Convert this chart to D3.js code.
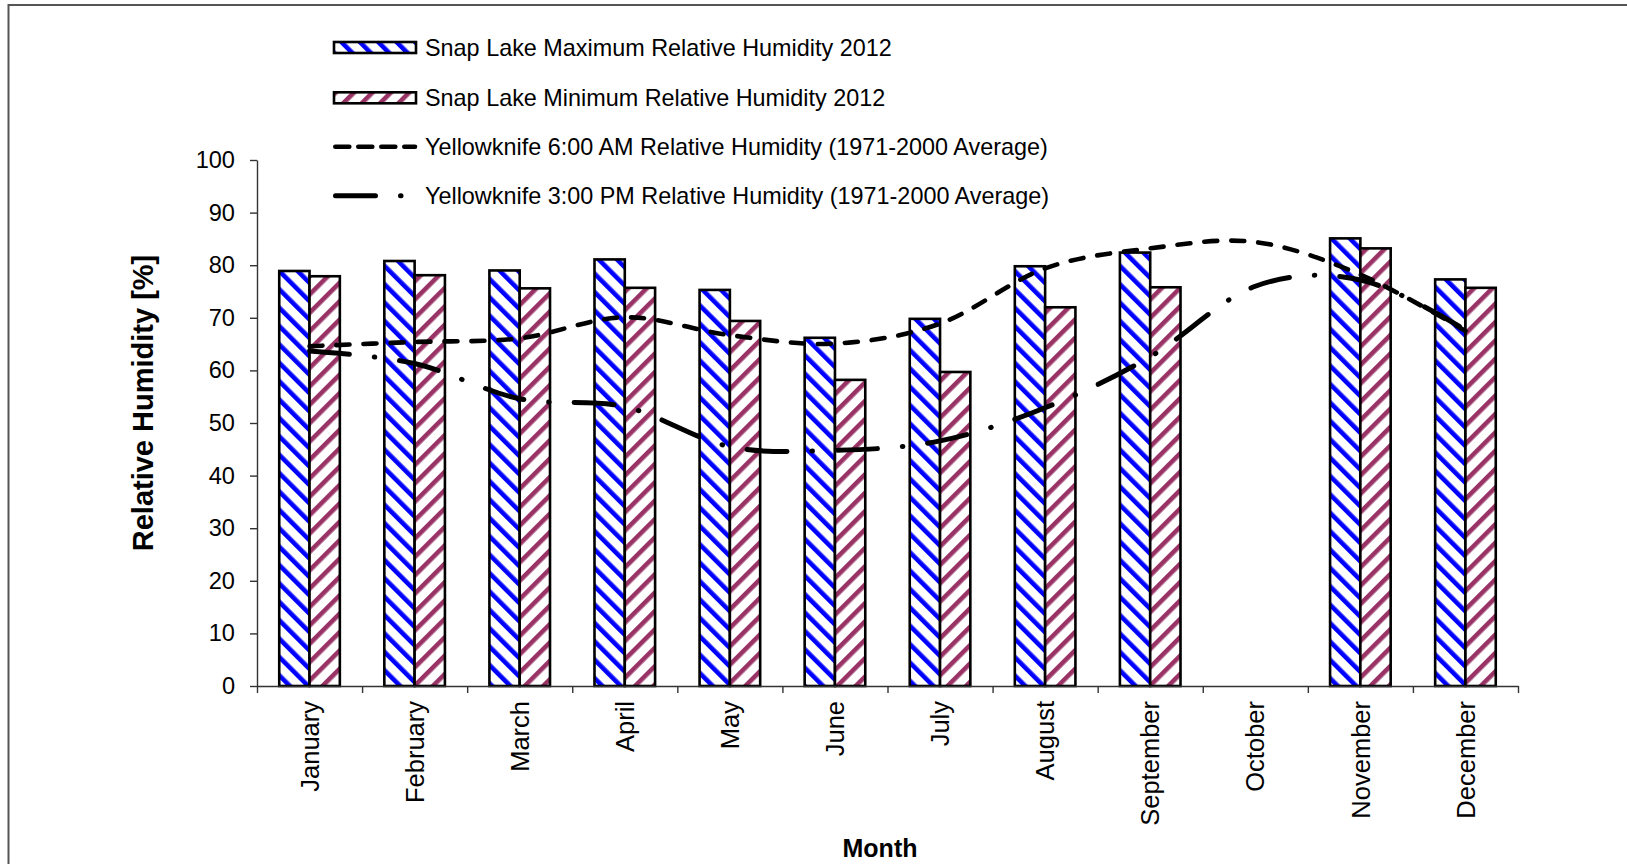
<!DOCTYPE html>
<html>
<head>
<meta charset="utf-8">
<script src="https://cdn.jsdelivr.net/npm/d3@7"></script>
<style>
body { margin: 0; background: #fff; }
text { font-family: "Liberation Sans", Arial, sans-serif; }
</style>
</head>
<body>
<div id="chart"></div>
<script>
var months = ["January", "February", "March", "April", "May", "June", "July",
  "August", "September", "October", "November", "December"];
var maxRH = [78.9, 80.8, 79.0, 81.1, 75.3, 66.2, 69.8, 79.8, 82.4, null, 85.1, 77.3];
var minRH = [77.9, 78.1, 75.6, 75.7, 69.4, 58.2, 59.7, 72.0, 75.8, null, 83.2, 75.7];
var am6 = [64.6, 65.4, 66.1, 70.1, 66.7, 65.1, 68.9, 79.4, 83.2, 84.4, 78.2, 67.5];
var pm3 = [63.7, 61.3, 54.6, 53.1, 45.5, 44.8, 46.6, 52.9, 62.6, 76.0, 77.2, 67.7];
var yTicks = [0, 10, 20, 30, 40, 50, 60, 70, 80, 90, 100];
var seriesNames = [
  "Snap Lake Maximum Relative Humidity 2012",
  "Snap Lake Minimum Relative Humidity 2012",
  "Yellowknife 6:00 AM Relative Humidity (1971-2000 Average)",
  "Yellowknife 3:00 PM Relative Humidity (1971-2000 Average)"
];

var W = 1627, H = 864;
var margin = {top: 160, right: 109, bottom: 178, left: 257};
var width = W - margin.left - margin.right;
var height = H - margin.top - margin.bottom;

var svg = d3.select("#chart").append("svg")
  .attr("width", W)
  .attr("height", H);

// chart frame (only top and left edge visible, like the cropped original)
svg.append("rect")
  .attr("x", 8.5).attr("y", 5)
  .attr("width", W + 20).attr("height", H + 20)
  .attr("fill", "none")
  .attr("stroke", "#555")
  .attr("stroke-width", 2);

var defs = svg.append("defs");
function hatch(id, color, angle) {
  var p = defs.append("pattern")
    .attr("id", id)
    .attr("patternUnits", "userSpaceOnUse")
    .attr("width", 13).attr("height", 13)
    .attr("patternTransform", "rotate(" + angle + ")");
  p.append("rect").attr("width", 13).attr("height", 13).attr("fill", "#fff");
  p.append("rect").attr("x", 0).attr("width", 4.6).attr("height", 13).attr("fill", color);
}
hatch("hatchMax", "#0000ff", -45);
hatch("hatchMin", "#993366", 45);

var g = svg.append("g")
  .attr("transform", "translate(" + margin.left + "," + margin.top + ")");

var x = d3.scaleBand().domain(months).range([0, width]).padding(0);
var x1 = d3.scaleBand().domain(["max", "min"]).range([0, x.bandwidth()])
  .paddingInner(0).paddingOuter(0.734);
var xEdge = d3.scaleLinear().domain([0, months.length]).range([0, width]);
var y = d3.scaleLinear().domain([0, 100]).range([height, 0]);

// bars
var barData = [];
months.forEach(function(m, i) {
  if (maxRH[i] != null) barData.push({month: m, key: "max", value: maxRH[i]});
  if (minRH[i] != null) barData.push({month: m, key: "min", value: minRH[i]});
});

g.append("g").selectAll("rect")
  .data(barData)
  .enter().append("rect")
  .attr("x", function(d) { return x(d.month) + x1(d.key); })
  .attr("y", function(d) { return y(d.value); })
  .attr("width", x1.bandwidth())
  .attr("height", function(d) { return y(0) - y(d.value); })
  .attr("fill", function(d) { return d.key === "max" ? "url(#hatchMax)" : "url(#hatchMin)"; })
  .attr("stroke", "#000")
  .attr("stroke-width", 2.6);

// axes
var yAxis = g.append("g")
  .call(d3.axisLeft(y).tickValues(yTicks).tickSize(7).tickSizeOuter(0).tickPadding(15));
yAxis.selectAll("text").attr("font-size", 23.6).attr("fill", "#000")
  .style("font-family", "'Liberation Sans', Arial, sans-serif");
yAxis.selectAll("line, path").attr("stroke", "#333").attr("stroke-width", 1.4);

var xAxis = g.append("g")
  .attr("transform", "translate(0," + height + ")")
  .call(d3.axisBottom(xEdge).ticks(12).tickSize(7).tickSizeOuter(0).tickFormat(""));
xAxis.selectAll("line, path").attr("stroke", "#333").attr("stroke-width", 1.4);

var xLabels = g.append("g")
  .attr("transform", "translate(0," + height + ")")
  .call(d3.axisBottom(x).tickSize(0).tickPadding(0));
xLabels.select(".domain").remove();
xLabels.selectAll("text")
  .attr("transform", "rotate(-90)")
  .attr("x", -15)
  .attr("y", 0)
  .attr("dy", "0.36em")
  .attr("text-anchor", "end")
  .attr("font-size", 25.5)
  .attr("fill", "#000")
  .style("font-family", "'Liberation Sans', Arial, sans-serif");

// lines
var line = d3.line()
  .x(function(d, i) { return x(months[i]) + x.bandwidth() / 2; })
  .y(function(d) { return y(d); })
  .curve(d3.curveCardinal.tension(0));

g.append("path")
  .datum(am6)
  .attr("d", line)
  .attr("fill", "none")
  .attr("stroke", "#000")
  .attr("stroke-width", 4.6)
  .attr("stroke-linecap", "round")
  .attr("stroke-dasharray", "13,14");

g.append("path")
  .datum(pm3)
  .attr("d", line)
  .attr("fill", "none")
  .attr("stroke", "#000")
  .attr("stroke-width", 5)
  .attr("stroke-linecap", "round")
  .attr("stroke-dasharray", "40,25,0.5,25");

// axis titles
svg.append("text")
  .attr("transform", "translate(153,403) rotate(-90)")
  .attr("text-anchor", "middle")
  .attr("font-size", 29)
  .attr("font-weight", "bold")
  .text("Relative Humidity [%]");

svg.append("text")
  .attr("x", 880)
  .attr("y", 857)
  .attr("text-anchor", "middle")
  .attr("font-size", 25)
  .attr("font-weight", "bold")
  .text("Month");

// legend
var legend = svg.append("g").attr("transform", "translate(333,0)");
var rowY = [47.5, 97.8, 146.7, 195.7];

legend.append("rect").attr("x", 1).attr("y", rowY[0] - 5.5).attr("width", 82).attr("height", 11)
  .attr("fill", "url(#hatchMax)").attr("stroke", "#000").attr("stroke-width", 2.6);
legend.append("rect").attr("x", 1).attr("y", rowY[1] - 5.5).attr("width", 82).attr("height", 11)
  .attr("fill", "url(#hatchMin)").attr("stroke", "#000").attr("stroke-width", 2.6);
legend.append("line").attr("x1", 2.3).attr("x2", 82).attr("y1", rowY[2]).attr("y2", rowY[2])
  .attr("stroke", "#000").attr("stroke-width", 4.6).attr("stroke-linecap", "round")
  .attr("stroke-dasharray", "14,9");
legend.append("line").attr("x1", 2.5).attr("x2", 82).attr("y1", rowY[3]).attr("y2", rowY[3])
  .attr("stroke", "#000").attr("stroke-width", 5).attr("stroke-linecap", "round")
  .attr("stroke-dasharray", "40,25,0.5,25");

legend.selectAll(".legtext")
  .data(seriesNames)
  .enter().append("text")
  .attr("class", "legtext")
  .attr("x", 92)
  .attr("y", function(d, i) { return rowY[i]; })
  .attr("dy", "0.36em")
  .attr("font-size", 23.4)
  .attr("fill", "#000")
  .text(function(d) { return d; });
</script>
</body>
</html>
